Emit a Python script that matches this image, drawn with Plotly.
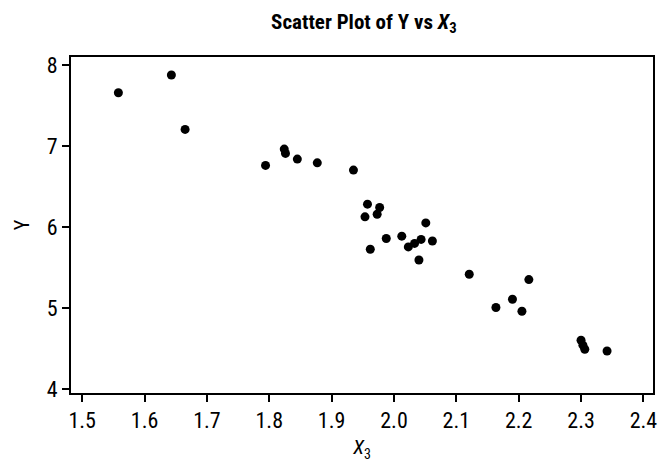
import plotly.graph_objects as go

# values
x3 = [1.558, 1.643, 1.665, 1.794, 1.824, 1.826, 1.845, 1.877, 1.935, 1.9575,
      1.977, 1.973, 1.9535, 2.051, 1.9876, 2.0125, 1.962, 2.023, 2.033, 2.0435,
      2.0616, 2.040, 2.1207, 2.2163, 2.190, 2.1635, 2.2052, 2.300, 2.303, 2.306,
      2.3417]
y = [7.658, 7.877, 7.206, 6.762, 6.963, 6.91, 6.84, 6.794, 6.704, 6.284,
     6.243, 6.16, 6.128, 6.053, 5.86, 5.889, 5.728, 5.757, 5.80, 5.849,
     5.83, 5.595, 5.42, 5.354, 5.111, 5.009, 4.963, 4.605, 4.545, 4.494,
     4.473]

x_ticks = [1.5, 1.6, 1.7, 1.8, 1.9, 2.0, 2.1, 2.2, 2.3, 2.4]
x_tick_text = ['1.5', '1.6', '1.7', '1.8', '1.9', '2.0', '2.1', '2.2', '2.3', '2.4']
y_ticks = [4, 5, 6, 7, 8]

FONT = 'Roboto Condensed, Arial Narrow, sans-serif'

fig = go.Figure()

fig.add_trace(
    go.Scatter(
        x=x3,
        y=y,
        mode='markers',
        marker=dict(size=9, color='black', symbol='circle'),
        showlegend=False,
        cliponaxis=False,
    )
)

axis_common = dict(
    showline=True,
    linecolor='black',
    linewidth=2,
    mirror=True,
    ticks='outside',
    ticklen=7,
    tickwidth=2,
    tickcolor='black',
    showgrid=False,
    zeroline=False,
    ticklabeloverflow='allow',
    tickfont=dict(family=FONT, size=22, color='black'),
)

fig.update_layout(
    width=664,
    height=462,
    plot_bgcolor='white',
    paper_bgcolor='white',
    margin=dict(l=71, r=7, t=57, b=69),
    title=dict(
        text='<b>Scatter Plot of Y vs <i>X</i><sub>3</sub></b>',
        x=0.548,
        xanchor='center',
        y=0.953,
        yanchor='middle',
        font=dict(family=FONT, size=21, color='black'),
    ),
    xaxis=dict(
        range=[1.482, 2.4154],
        tickvals=x_ticks,
        ticktext=x_tick_text,
        title=dict(text='<i>X</i><sub>3</sub>', font=dict(family=FONT, size=20, color='black'), standoff=8),
        **axis_common,
    ),
    yaxis=dict(
        range=[3.955, 8.099],
        tickvals=y_ticks,
        title=dict(text='Y', font=dict(family=FONT, size=20, color='black'), standoff=12),
        **axis_common,
    ),
)

# drop the default page margin so the figure sits at the window's corner
fig.write_html('out.html', config={'displayModeBar': False},
               post_script="document.body.style.margin='0';")
